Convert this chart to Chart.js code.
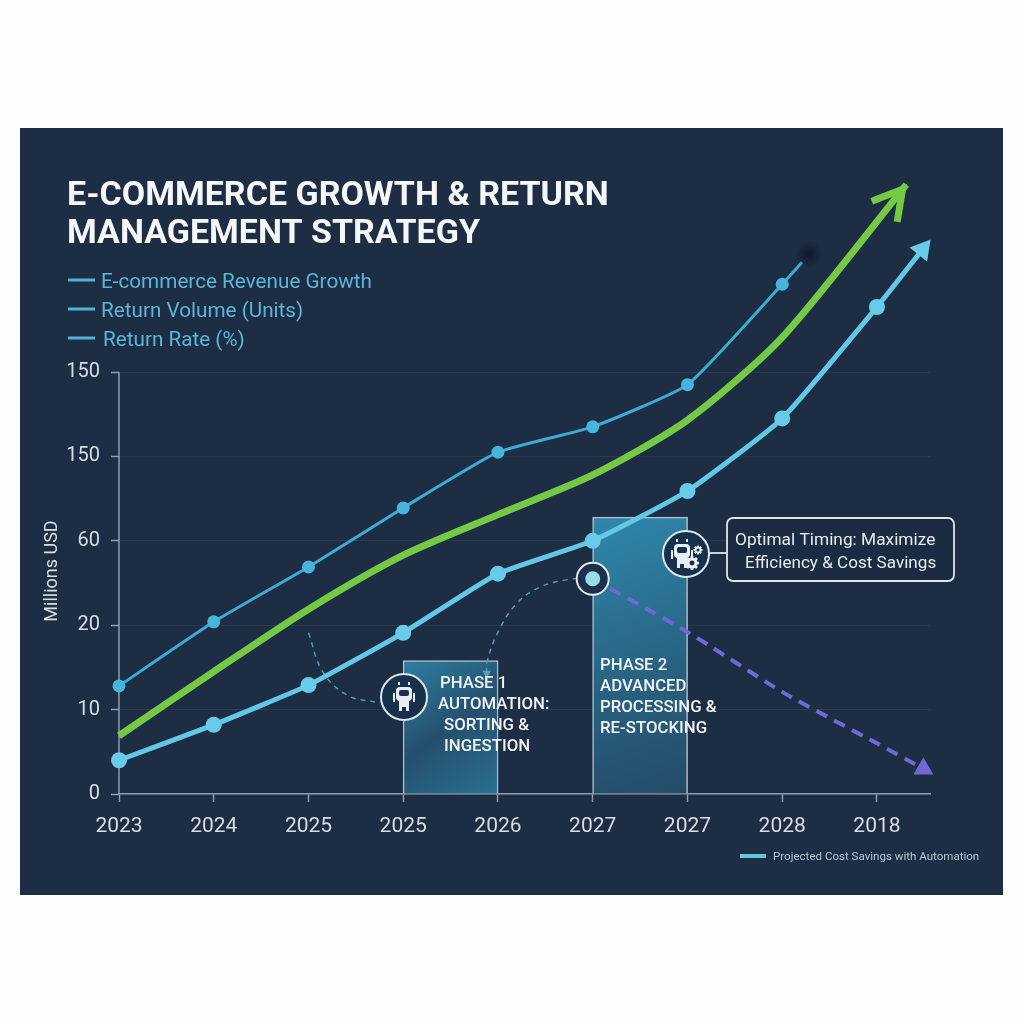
<!DOCTYPE html>
<html>
<head>
<meta charset="utf-8">
<title>E-commerce Growth & Return Management Strategy</title>
<script src="https://cdn.jsdelivr.net/npm/chart.js@4/dist/chart.umd.min.js"></script>
<style>
  html, body { margin: 0; padding: 0; background: #fefefe; }
  canvas { display: block; }
</style>
</head>
<body>
<canvas id="chart" width="1024" height="1024"></canvas>
<script>
// axis labels are read as printed, so the scales run on their index
const xLabels = ["2023", "2024", "2025", "2025", "2026", "2027", "2027", "2028", "2018"];
const yLabels = ["0", "10", "20", "60", "150", "150"];

const titleLines = ["E-COMMERCE GROWTH & RETURN", "MANAGEMENT STRATEGY"];
const legendLabels = ["E-commerce Revenue Growth", "Return Volume (Units)", "Return Rate (%)"];
const phase1Lines = ["PHASE 1", "AUTOMATION:", "SORTING &", "INGESTION"];
const phase2Lines = ["PHASE 2", "ADVANCED", "PROCESSING &", "RE-STOCKING"];
const calloutLines = ["Optimal Timing: Maximize", "Efficiency & Cost Savings"];
const savingsLabel = "Projected Cost Savings with Automation";

const upperX = [0, 1, 2, 3, 4, 5, 6, 7, 7.21];
const upperY = [1.28, 2.04, 2.69, 3.39, 4.05, 4.35, 4.85, 6.04, 6.3];

const greenX = [0, 1, 2, 3, 4, 5, 6, 7, 8.31];
const greenY = [0.69, 1.45, 2.19, 2.83, 3.31, 3.78, 4.43, 5.41, 7.22];

const lowerX = [0, 1, 2, 3, 4, 5, 6, 7, 8, 8.48];
const lowerY = [0.4, 0.82, 1.29, 1.91, 2.61, 3.0, 3.59, 4.45, 5.77, 6.45];

const savingsX = [5, 6, 7, 8, 8.49];
const savingsY = [2.55, 1.92, 1.21, 0.6, 0.3];

const phaseX = [3.5, 5.5];
const phaseY = [1.58, 3.28];

const linkAX = [2.0, 2.15, 2.41, 2.7];
const linkAY = [1.91, 1.45, 1.17, 1.09];
const linkBX = [3.88, 3.89, 4.01, 4.2, 4.44, 4.73, 4.9];
const linkBY = [1.43, 1.59, 1.94, 2.26, 2.45, 2.54, 2.56];

function zip(xs, ys) {
    return xs.map((x, i) => ({ x: x, y: ys[i] }));
}

function txt(ctx, str, x, y, font, color, align) {
    ctx.font = font;
    ctx.fillStyle = color;
    ctx.textAlign = align || "left";
    ctx.textBaseline = "alphabetic";
    ctx.fillText(str, x, y);
}

function drawGear(ctx, x, y, r) {
    ctx.save();
    ctx.fillStyle = "#e8eef1";
    ctx.translate(x, y);
    for (let i = 0; i < 8; i++) {
        ctx.rotate(Math.PI / 4);
        ctx.fillRect(-r * 0.22, -r * 1.25, r * 0.44, r * 2.5);
    }
    ctx.beginPath();
    ctx.arc(0, 0, r, 0, Math.PI * 2);
    ctx.fill();
    ctx.fillStyle = "#17304c";
    ctx.beginPath();
    ctx.arc(0, 0, r * 0.45, 0, Math.PI * 2);
    ctx.fill();
    ctx.restore();
}

function drawRobot(ctx, cx, cy, gears) {
    ctx.save();
    ctx.beginPath();
    ctx.arc(cx, cy, 23, 0, Math.PI * 2);
    ctx.fillStyle = "#17304c";
    ctx.fill();
    ctx.lineWidth = 2;
    ctx.strokeStyle = "#dfe6ea";
    ctx.stroke();

    const rx = gears ? cx - 4 : cx;
    const ry = cy - 3;
    ctx.fillStyle = "#e8eef1";
    ctx.beginPath();
    ctx.roundRect(rx - 8, ry - 7, 16, 14, 4);
    ctx.fill();
    ctx.fillRect(rx - 5, ry + 7, 10, 6);
    ctx.fillRect(rx - 11, ry - 1, 2, 9);
    ctx.fillRect(rx + 9, ry - 1, 2, 9);
    ctx.fillRect(rx - 5, ry + 13, 3, 4);
    ctx.fillRect(rx + 2, ry + 13, 3, 4);
    ctx.fillRect(rx - 6, ry - 12, 2, 3);
    ctx.fillRect(rx + 4, ry - 12, 2, 3);
    ctx.fillStyle = "#17304c";
    ctx.beginPath();
    ctx.roundRect(rx - 5, ry - 4, 10, 6, 2);
    ctx.fill();
    if (gears) {
        drawGear(ctx, cx + 6, cy + 9, 5.5);
        drawGear(ctx, cx + 12, cy - 4, 3.5);
    }
    ctx.restore();
}

const artwork = {
    id: "artwork",
    beforeDraw(chart) {
        const ctx = chart.ctx;
        ctx.save();
        ctx.fillStyle = "#fefefe";
        ctx.fillRect(0, 0, 1024, 1024);
        ctx.fillStyle = "#1c2d44";
        ctx.fillRect(20, 128, 983, 767);
        ctx.restore();
    },
    beforeDatasetsDraw(chart) {
        // y axis stops at the last labelled tick, the lines run on above it
        const ctx = chart.ctx;
        const x0 = chart.scales.x.getPixelForValue(0);
        ctx.save();
        ctx.strokeStyle = "#8e9cab";
        ctx.lineWidth = 1.5;
        ctx.beginPath();
        ctx.moveTo(x0, chart.scales.y.getPixelForValue(0));
        ctx.lineTo(x0, chart.scales.y.getPixelForValue(yLabels.length - 1));
        ctx.stroke();
        ctx.restore();
    },
    afterDatasetsDraw(chart) {
        const ctx = chart.ctx;
        const sx = chart.scales.x;
        const sy = chart.scales.y;
        ctx.save();

        titleLines.forEach((line, i) => {
            txt(ctx, line, 67, 205 + i * 38, "700 34px Roboto", "#f4f6f8");
        });

        legendLabels.forEach((label, i) => {
            const y = [280, 309, 338][i];
            ctx.fillStyle = "#4fb3d6";
            ctx.fillRect(68, y - 1.5, 27, 3);
            txt(ctx, label, i === 2 ? 103 : 101, y + 8, "400 20.7px Roboto", "#5db6d6");
        });

        ctx.save();
        ctx.translate(51, 571);
        ctx.rotate(-Math.PI / 2);
        txt(ctx, "Millions USD", 0, 6, "400 18px Roboto", "#d7dee3", "center");
        ctx.restore();

        // open arrow head on the green line, pulled back so the mitre lands on the tip
        const n = greenX.length - 1;
        const endX = sx.getPixelForValue(greenX[n]);
        const endY = sy.getPixelForValue(greenY[n]);
        const ang = Math.atan2(endY - sy.getPixelForValue(greenY[n - 1]), endX - sx.getPixelForValue(greenX[n - 1]));
        const tipX = endX - 6 * Math.cos(ang);
        const tipY = endY - 6 * Math.sin(ang);
        ctx.strokeStyle = "#76c944";
        ctx.lineWidth = 7;
        ctx.lineJoin = "miter";
        ctx.beginPath();
        ctx.moveTo(tipX - 33 * Math.cos(ang - 0.52), tipY - 33 * Math.sin(ang - 0.52));
        ctx.lineTo(tipX, tipY);
        ctx.lineTo(tipX - 33 * Math.cos(ang + 0.52), tipY - 33 * Math.sin(ang + 0.52));
        ctx.stroke();

        // dark smudge at the end of the upper line
        const m = upperX.length - 1;
        const sfX = sx.getPixelForValue(upperX[m]) + 7;
        const sfY = sy.getPixelForValue(upperY[m]) - 8;
        const blur = ctx.createRadialGradient(sfX, sfY, 1, sfX, sfY, 14);
        blur.addColorStop(0, "rgba(18,24,44,0.9)");
        blur.addColorStop(1, "rgba(18,24,44,0)");
        ctx.fillStyle = blur;
        ctx.fillRect(sfX - 14, sfY - 14, 28, 28);

        // target where the savings line leaves the phase 2 bar
        const tx = sx.getPixelForValue(savingsX[0]);
        const ty = sy.getPixelForValue(savingsY[0]);
        ctx.beginPath();
        ctx.arc(tx, ty, 16, 0, Math.PI * 2);
        ctx.fillStyle = "#1b3049";
        ctx.fill();
        ctx.lineWidth = 2;
        ctx.strokeStyle = "#e3e9ed";
        ctx.stroke();
        ctx.beginPath();
        ctx.arc(tx, ty, 7.5, 0, Math.PI * 2);
        ctx.fillStyle = "#9adbe8";
        ctx.fill();

        drawRobot(ctx, 404, 697, false);

        phase1Lines.forEach((line, i) => {
            const x = [440, 438, 444, 444][i];
            txt(ctx, line, x, 688 + i * 21, "500 16.8px Roboto", "#f1f4f6");
        });
        phase2Lines.forEach((line, i) => {
            txt(ctx, line, 600, 670 + i * 21, "500 16.8px Roboto", "#f1f4f6");
        });

        // callout
        ctx.strokeStyle = "#dfe6ea";
        ctx.lineWidth = 1.8;
        ctx.beginPath();
        ctx.moveTo(708, 553);
        ctx.lineTo(727, 553);
        ctx.stroke();
        ctx.beginPath();
        ctx.roundRect(727, 518, 227, 63, 6);
        ctx.fillStyle = "#1b2b42";
        ctx.fill();
        ctx.stroke();
        drawRobot(ctx, 686, 554, true);
        txt(ctx, calloutLines[0], 735, 545, "400 17.3px Roboto", "#e6edf0");
        txt(ctx, calloutLines[1], 745, 568, "400 17.1px Roboto", "#e6edf0");

        // bottom legend
        ctx.fillStyle = "#63c8e6";
        ctx.fillRect(740, 854, 26, 4);
        txt(ctx, savingsLabel, 773, 860, "400 11.55px Roboto", "#b9c7d1");

        ctx.restore();
    }
};

function phaseFill(c) {
    const chart = c.chart;
    if (!chart.chartArea || c.dataIndex === undefined) return "#2b7a9b";
    const y = chart.scales.y;
    const x = chart.scales.x;
    const cx = x.getPixelForValue(phaseX[c.dataIndex]);
    const g = chart.ctx.createLinearGradient(cx - 47, y.getPixelForValue(phaseY[c.dataIndex]), cx + 47, y.getPixelForValue(0));
    if (c.dataIndex === 0) {
        g.addColorStop(0, "#2d7fa0");
        g.addColorStop(0.5, "#254f6e");
        g.addColorStop(1, "#2a7090");
    } else {
        g.addColorStop(0, "#2f88ab");
        g.addColorStop(0.6, "#28607f");
        g.addColorStop(1, "#244c68");
    }
    return g;
}

new Chart(document.getElementById("chart"), {
    type: "line",
    data: {
        datasets: [
            {
                type: "bar",
                label: "Phases",
                data: zip(phaseX, phaseY),
                backgroundColor: phaseFill,
                borderColor: "rgba(205,218,228,0.85)",
                borderWidth: 1.5,
                borderSkipped: "bottom",
                barThickness: 95,
                order: 6
            },
            {
                label: "Link A",
                data: zip(linkAX, linkAY),
                borderColor: "#4d9dba",
                borderWidth: 1.5,
                borderDash: [5, 5],
                pointRadius: 0,
                tension: 0.4,
                clip: false,
                order: 5
            },
            {
                label: "Link B",
                data: zip(linkBX, linkBY),
                borderColor: "#4d9dba",
                borderWidth: 1.5,
                borderDash: [5, 5],
                pointStyle: "triangle",
                pointRotation: 180,
                pointRadius: c => c.dataIndex === 0 ? 5 : 0,
                pointBackgroundColor: "#5d9fba",
                pointBorderWidth: 0,
                tension: 0.4,
                clip: false,
                order: 5
            },
            {
                label: "Projected Savings",
                data: zip(savingsX, savingsY),
                borderColor: "#6f68d6",
                borderWidth: 4,
                borderDash: [12, 8],
                pointStyle: "triangle",
                pointRadius: c => c.dataIndex === savingsX.length - 1 ? 11.5 : 0,
                pointBackgroundColor: "#6f68d6",
                pointBorderWidth: 0,
                tension: 0.2,
                clip: false,
                order: 4
            },
            {
                label: legendLabels[0],
                data: zip(upperX, upperY),
                borderColor: "#3fabd2",
                borderWidth: 3,
                pointRadius: c => c.dataIndex === upperX.length - 1 ? 0 : 6.5,
                pointBackgroundColor: "#45b5da",
                pointBorderWidth: 0,
                tension: 0.15,
                clip: false,
                order: 3
            },
            {
                label: legendLabels[1],
                data: zip(greenX, greenY),
                borderColor: "#76c944",
                borderWidth: 7,
                pointRadius: 0,
                tension: 0.25,
                clip: false,
                order: 2
            },
            {
                label: legendLabels[2],
                data: zip(lowerX, lowerY),
                borderColor: "#63c8e6",
                borderWidth: 5,
                pointStyle: c => c.dataIndex === lowerX.length - 1 ? "triangle" : "circle",
                pointRotation: c => c.dataIndex === lowerX.length - 1 ? 39 : 0,
                pointRadius: c => c.dataIndex === lowerX.length - 1 ? 13 : 8,
                pointBackgroundColor: "#68cce9",
                pointBorderWidth: 0,
                tension: 0.15,
                clip: false,
                order: 1
            }
        ]
    },
    plugins: [artwork],
    options: {
        responsive: false,
        animation: false,
        layout: { padding: { top: 161, right: 94, bottom: 0, left: 0 } },
        plugins: { legend: { display: false }, tooltip: { enabled: false } },
        scales: {
            x: {
                type: "linear",
                min: 0,
                max: 8.56,
                offset: false,
                afterFit: s => { s.height = 230; },
                border: { color: "#8e9cab", width: 1.5 },
                grid: { offset: false, color: "transparent", tickColor: "#8e9cab", tickWidth: 1.5, tickLength: 8 },
                ticks: {
                    stepSize: 1,
                    includeBounds: false,
                    autoSkip: false,
                    maxRotation: 0,
                    padding: 12,
                    color: "#d7dee3",
                    font: { family: "Roboto", size: 21 },
                    callback: v => xLabels[v]
                }
            },
            y: {
                type: "linear",
                min: 0,
                max: 7.5,
                afterFit: s => { s.width = 119; },
                afterBuildTicks: s => { s.ticks = s.ticks.filter(t => t.value < yLabels.length); },
                border: { display: false },
                grid: { color: "rgba(255,255,255,0.06)", tickColor: "#8e9cab", tickWidth: 1.5, tickLength: 8 },
                ticks: {
                    stepSize: 1,
                    includeBounds: false,
                    autoSkip: false,
                    padding: 11,
                    color: "#d7dee3",
                    font: { family: "Roboto", size: 20 },
                    callback: v => yLabels[v]
                }
            }
        }
    }
});
</script>
</body>
</html>
